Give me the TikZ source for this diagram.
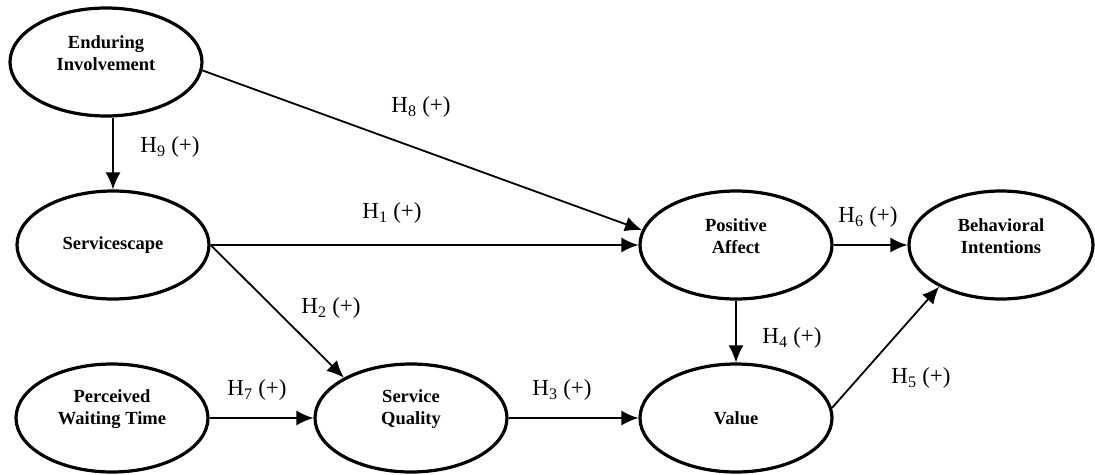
\documentclass[tikz,border=0pt]{standalone}
\usepackage{fontspec}
\setmainfont{Liberation Serif}
\usetikzlibrary{shapes.geometric,arrows.meta}

\begin{document}
\begin{tikzpicture}[x=1pt, y=-1pt,
        construct/.style={ellipse, draw, line width=3.2pt, minimum width=192pt, minimum height=108pt,
            inner sep=0pt, font=\fontsize{18.5}{22}\selectfont\bfseries, align=center},
        twolines/.style={label={[font=\fontsize{18.5}{22}\selectfont\bfseries, align=center, yshift=9pt]center:#1}},
        hyp/.style={line width=1.8pt, -{Latex[length=17pt,width=15pt]}},
        hlabel/.style={font=\fontsize{23}{27}\selectfont, inner sep=0pt}]
        \useasboundingbox (0,0) rectangle (1095,474);

        % constructs
        \node[construct, twolines={Enduring\\Involvement}] (ei) at (106,62) {};
        \node[construct] (ss) at (113,245) {Servicescape};
        \node[construct, twolines={Perceived\\Waiting Time}] (pwt) at (112,418) {};
        \node[construct, twolines={Service\\Quality}] (sq) at (411,418) {};
        \node[construct, twolines={Positive\\Affect}] (pa) at (736,245) {};
        \node[construct] (val) at (736,418) {Value};
        \node[construct, minimum width=184pt, twolines={Behavioral\\Intentions}] (bi) at (1001,245) {};

        % hypotheses
        \draw[hyp] (ss.north |- ei.south) -- (ss.north);
        \draw[hyp] (ei.-5) -- (pa.171);
        \draw[hyp] (ss.east) -- (pa.west);
        \draw[hyp] (ss.east) -- (sq.149);
        \draw[hyp] (pwt.east) -- (sq.west);
        \draw[hyp] (sq.east) -- (val.west);
        \draw[hyp] (pa.south) -- (val.north);
        \draw[hyp] (pa.east) -- (bi.west);
        \draw[hyp] (val.6) -- (bi.214);

        \node[hlabel] (h1) at (392,213) {H\textsubscript{1} (+)};
        \node[hlabel] (h2) at (331,308) {H\textsubscript{2} (+)};
        \node[hlabel] (h3) at (562,390) {H\textsubscript{3} (+)};
        \node[hlabel] (h4) at (792,338) {H\textsubscript{4} (+)};
        \node[hlabel] (h5) at (921,378) {H\textsubscript{5} (+)};
        \node[hlabel] (h6) at (868,217) {H\textsubscript{6} (+)};
        \node[hlabel] (h7) at (257,390) {H\textsubscript{7} (+)};
        \node[hlabel] (h8) at (421,107) {H\textsubscript{8} (+)};
        \node[hlabel] (h9) at (170,147) {H\textsubscript{9} (+)};
    \end{tikzpicture}
\end{document}
